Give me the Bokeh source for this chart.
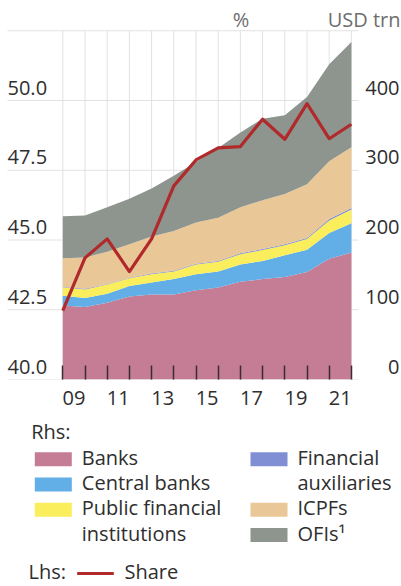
from bokeh.plotting import figure
from bokeh.layouts import column
from bokeh.models import ColumnDataSource, Range1d, FixedTicker
from bokeh.core.properties import value
from bokeh.embed import file_html
from bokeh.resources import INLINE

# ---------------- data (year-end values, 2008-2021) ----------------
years = [2008, 2009, 2010, 2011, 2012, 2013, 2014, 2015, 2016, 2017, 2018, 2019, 2020, 2021]
banks = [106, 104, 110, 119, 122, 122, 128, 132, 140, 144, 147, 154, 173, 182]
central_banks = [14, 13, 13, 15, 17, 22, 23, 23, 25, 26, 31, 32, 37, 42]
public_fin = [12.2, 12.2, 13.1, 11.1, 12.0, 11.0, 13.9, 13.8, 14.7, 15.6, 14.5, 15.3, 18.0, 19.7]
fin_aux = [0.8, 0.8, 0.9, 0.9, 1.0, 1.0, 1.1, 1.2, 1.3, 1.4, 1.5, 1.7, 2.0, 2.3]
icpfs = [41, 45, 46, 48, 53, 57, 59, 62, 66, 70, 72, 77, 83, 87]
ofis = [60, 60, 64, 65, 69, 79, 87, 100, 107, 117, 113, 125, 139, 151]
share = [42.47, 44.36, 45.04, 43.87, 45.04, 46.94, 47.87, 48.30, 48.35, 49.33, 48.61, 49.89, 48.63, 49.15]

lhs_ticks = [40.0, 42.5, 45.0, 47.5, 50.0]
rhs_ticks = [0, 100, 200, 300, 400]
lhs_top_line = 52.5
x_label_years = [2009, 2011, 2013, 2015, 2017, 2019, 2021]
x_labels = ["09", "11", "13", "15", "17", "19", "21"]

series_keys = ["banks", "central_banks", "public_fin", "fin_aux", "icpfs", "ofis"]
series_labels = ["Banks", "Central banks", "Public financial\ninstitutions",
                 "Financial\nauxiliaries", "ICPFs", "OFIs\u00b9"]
series_colors = ["#c57d95", "#62aee6", "#fbee5d", "#808fd4", "#eac796", "#8e958f"]
share_color = "#b0292b"

FONT = "Open Sans"
TXT = "#2e2e2e"
UNIT_TXT = "#6e6e6e"
GRID = "#e2e2e2"
W = 401
TOTAL_H = 586

# ---------------- geometry of the chart figure ----------------
FRAME_H = 379          # frame spans canvas rows 0..379
BOTTOM = 36            # x-axis label strip
CHART_H = FRAME_H + BOTTOM
PX_YEAR = 22.2         # px per year
X_FIRST_PX = 62.3      # px of first data point
PX_UNIT = 27.9         # px per lhs unit
LABEL_RISE = 13        # px from a grid line up to its tick label's middle

x_first = years[0] + 1
x_start = x_first - X_FIRST_PX / PX_YEAR
x_end = x_start + W / PX_YEAR
y_start = lhs_ticks[0]
y_end = y_start + FRAME_H / PX_UNIT
rhs_factor = (rhs_ticks[-1] - rhs_ticks[0]) / (lhs_ticks[-1] - lhs_ticks[0])
rhs_end = (y_end - y_start) * rhs_factor


def px_x(px):
    return x_start + px / PX_YEAR


def px_y(py):
    return y_end - py / PX_UNIT


xs = [y + 1 for y in years]  # end-of-year position
src = ColumnDataSource(dict(x=xs, banks=banks, central_banks=central_banks,
                            public_fin=public_fin, fin_aux=fin_aux, icpfs=icpfs,
                            ofis=ofis, share=share))

p = figure(width=W, height=CHART_H, x_range=Range1d(x_start, x_end),
           y_range=Range1d(y_start, y_end),
           output_backend="svg", toolbar_location=None, y_axis_location=None,
           min_border_left=0, min_border_right=0, min_border_top=0,
           min_border_bottom=BOTTOM)
p.extra_y_ranges = {"rhs": Range1d(0, rhs_end)}
p.outline_line_color = None
p.grid.visible = False

# grid lines, limited to the plotting area
grid_left, grid_right = px_x(7), px_x(358)
h_lines = lhs_ticks + [lhs_top_line]
p.segment(x0=[grid_left] * len(h_lines), x1=[grid_right] * len(h_lines),
          y0=h_lines, y1=h_lines, line_color=GRID, line_width=1)
p.segment(x0=xs, x1=xs, y0=[lhs_ticks[0]] * len(xs), y1=[lhs_top_line] * len(xs),
          line_color=GRID, line_width=1)

p.varea_stack(stackers=series_keys, x="x", color=series_colors, source=src,
              y_range_name="rhs")
p.line("x", "share", source=src, color=share_color, line_width=3.2, line_join="round")

xa = p.xaxis[0]
xa.ticker = FixedTicker(ticks=[y + 0.5 for y in x_label_years], minor_ticks=xs)
xa.major_label_overrides = {y + 0.5: lab for y, lab in zip(x_label_years, x_labels)}
xa.major_tick_in = 0
xa.major_tick_out = 0
xa.minor_tick_in = 14
xa.minor_tick_out = 0
xa.minor_tick_line_color = "#3a2c33"
xa.minor_tick_line_width = 1.5
xa.axis_line_color = None
xa.major_label_text_font = FONT
xa.major_label_text_font_size = "20px"
xa.major_label_text_color = TXT
xa.major_label_standoff = 11

tk = dict(text_font=value(FONT), text_font_size="20px")
# axis tick labels (sitting just above their grid lines)
lhs_rise = LABEL_RISE / PX_UNIT
p.text(x=[px_x(7)] * len(lhs_ticks), y=[t + lhs_rise for t in lhs_ticks],
       text=["%.1f" % t for t in lhs_ticks],
       text_align="left", text_baseline="middle", text_color=TXT, **tk)
p.text(x=[px_x(399)] * len(rhs_ticks), y=[t + lhs_rise * rhs_factor for t in rhs_ticks],
       text=[str(t) for t in rhs_ticks],
       text_align="right", text_baseline="middle", text_color=TXT,
       y_range_name="rhs", **tk)
# unit labels
p.text(x=[px_x(240.5)], y=[px_y(19)], text=["%"], text_align="center",
       text_baseline="middle", text_color=UNIT_TXT, **tk)
p.text(x=[px_x(400)], y=[px_y(19)], text=["USD trn"], text_align="right",
       text_baseline="middle", text_color=UNIT_TXT, **tk)

# ---------------- legend ----------------
LH = TOTAL_H - CHART_H
lg = figure(width=W, height=LH, x_range=Range1d(0, W), y_range=Range1d(LH, 0),
            output_backend="svg", toolbar_location=None,
            min_border=0, x_axis_location=None, y_axis_location=None)
lg.grid.visible = False
lg.outline_line_color = None

tkw = dict(text_baseline="middle", text_color=TXT, **tk)
lg.text(x=[30.7], y=[16], text=["Rhs:"], **tkw)

col_left = [34.3, 250.0]
row0, row_h = 43.7, 25.3
text_shift = -2
sw_w, sw_h = 37, 14
sl, sr, st, sb, scol = [], [], [], [], []
tx, ty, tt = [], [], []
row = 0
for i, (lab, colr) in enumerate(zip(series_labels, series_colors)):
    c = 0 if i < 3 else 1
    if i in (0, 3):
        row = 0
    lines = lab.split("\n")
    yc = row0 + row * row_h
    sl.append(col_left[c]); sr.append(col_left[c] + sw_w)
    st.append(yc - sw_h / 2); sb.append(yc + sw_h / 2); scol.append(colr)
    for k, ln in enumerate(lines):
        tx.append(col_left[c] + 47); ty.append(yc + k * row_h + text_shift); tt.append(ln)
    row += len(lines)
lg.quad(left=sl, right=sr, top=st, bottom=sb, color=scol, line_color=None)
lg.text(x=tx, y=ty, text=tt, **tkw)

lg.text(x=[28], y=[155.5], text=["Lhs:"], **tkw)
lg.line(x=[76.7, 113.3], y=[158, 158], color=share_color, line_width=3)
lg.text(x=[124], y=[155.5], text=["Share"], **tkw)

layout = column(p, lg, spacing=0)
open("out.html", "w").write(file_html(layout, INLINE))
